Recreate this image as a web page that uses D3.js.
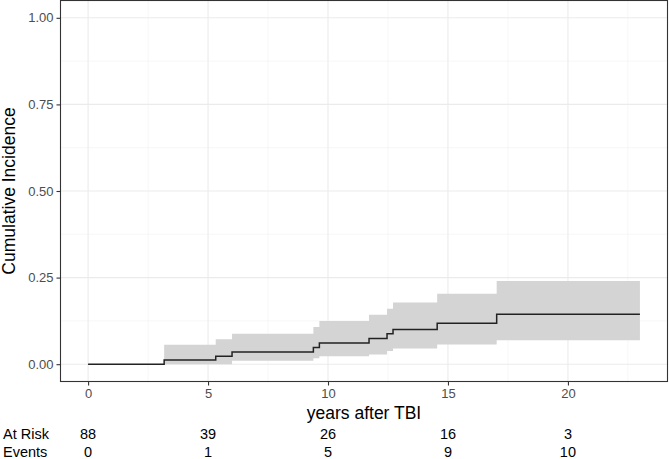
<!DOCTYPE html>
<html><head><meta charset="utf-8">
<script src="https://cdn.jsdelivr.net/npm/d3@7"></script>
<style>body{margin:0;background:#fff;font-family:"Liberation Sans",Arial,sans-serif;}</style>
</head><body>
<svg id="c" width="669" height="459"></svg>
<script>
// Step times (years after TBI) and cumulative incidence with 95% band
const times = [0, 3.17, 5.32, 6.0, 9.39, 9.64, 11.71, 12.46, 12.71, 14.55, 17.03, 23];
const est   = [0, 0.012, 0.023, 0.035, 0.048, 0.061, 0.074, 0.088, 0.100, 0.118, 0.144, 0.144];
const upper = [0, 0.056, 0.072, 0.088, 0.107, 0.125, 0.143, 0.160, 0.178, 0.203, 0.240, 0.240];
const lower = [0, 0.000, 0.000, 0.010, 0.017, 0.023, 0.028, 0.038, 0.045, 0.057, 0.069, 0.069];
const xTicks = [0, 5, 10, 15, 20];
const yTicks = [0, 0.25, 0.5, 0.75, 1];
const riskTimes = [0, 5, 10, 15, 20];
const atRisk = [88, 39, 26, 16, 3];
const events = [0, 1, 5, 9, 10];

const svg = d3.select("#c");
const L = 60.5, R = 667.5, T = 0.5, B = 381.5;
const x = d3.scaleLinear().domain([-1.15, 24.15]).range([L, R]);
const y = d3.scaleLinear().domain([-0.05, 1.05]).range([B, T]);

svg.append("rect").attr("x", L).attr("y", T).attr("width", R - L).attr("height", B - T).attr("fill", "#fff");

// minor grid
const xMinor = [2.5, 7.5, 12.5, 17.5, 22.5];
const yMinor = [0.125, 0.375, 0.625, 0.875];
const g = svg.append("g");
xMinor.forEach(v => g.append("line").attr("x1", x(v)).attr("x2", x(v)).attr("y1", T).attr("y2", B).attr("stroke", "#F2F2F2").attr("stroke-width", 0.6));
yMinor.forEach(v => g.append("line").attr("y1", y(v)).attr("y2", y(v)).attr("x1", L).attr("x2", R).attr("stroke", "#F2F2F2").attr("stroke-width", 0.6));
xTicks.forEach(v => g.append("line").attr("x1", x(v)).attr("x2", x(v)).attr("y1", T).attr("y2", B).attr("stroke", "#EBEBEB").attr("stroke-width", 1.1));
yTicks.forEach(v => g.append("line").attr("y1", y(v)).attr("y2", y(v)).attr("x1", L).attr("x2", R).attr("stroke", "#EBEBEB").attr("stroke-width", 1.1));

// band
const pts = times.map((t, i) => ({t, e: est[i], u: upper[i], l: lower[i]}));
const band = d3.area().curve(d3.curveStepAfter).x(d => x(d.t)).y0(d => y(d.l)).y1(d => y(d.u));
svg.append("path").datum(pts.slice(1)).attr("d", band).attr("fill", "#D4D4D4");

// line
const line = d3.line().curve(d3.curveStepAfter).x(d => x(d.t)).y(d => y(d.e));
svg.append("path").datum(pts).attr("d", line).attr("fill", "none").attr("stroke", "#222").attr("stroke-width", 1.5);

// border
svg.append("rect").attr("x", L).attr("y", T).attr("width", R - L).attr("height", B - T).attr("fill", "none").attr("stroke", "#333").attr("stroke-width", 1.1);

// axes
const xa = svg.append("g").attr("transform", `translate(0,${B})`)
  .call(d3.axisBottom(x).tickValues(xTicks).tickSize(4).tickPadding(3.5).tickFormat(d3.format("d")));
const ya = svg.append("g").attr("transform", `translate(${L},0)`)
  .call(d3.axisLeft(y).tickValues(yTicks).tickSize(4).tickPadding(3).tickFormat(d3.format(".2f")));
[xa, ya].forEach(a => {
  a.select(".domain").remove();
  a.selectAll(".tick line").attr("stroke", "#333").attr("stroke-width", 1.1);
  a.selectAll("text").attr("fill", "#4D4D4D").style("font-size", "13px").style("font-family", "Liberation Sans, Arial, sans-serif");
});

// titles
svg.append("text").attr("x", (L + R) / 2).attr("y", 419).attr("text-anchor", "middle")
  .style("font-size", "17.5px").attr("fill", "#000").text("years after TBI");
svg.append("text").attr("transform", `translate(15,${(T + B) / 2}) rotate(-90)`).attr("text-anchor", "middle")
  .style("font-size", "17.5px").attr("fill", "#000").text("Cumulative Incidence");

// risk table
svg.append("text").attr("x", 3).attr("y", 438.5).style("font-size", "14.5px").text("At Risk");
svg.append("text").attr("x", 3).attr("y", 457).style("font-size", "14.5px").text("Events");
riskTimes.forEach((t, i) => {
  svg.append("text").attr("x", x(t)).attr("y", 438.5).attr("text-anchor", "middle").style("font-size", "14.5px").text(atRisk[i]);
  svg.append("text").attr("x", x(t)).attr("y", 457).attr("text-anchor", "middle").style("font-size", "14.5px").text(events[i]);
});
</script>
</body></html>
